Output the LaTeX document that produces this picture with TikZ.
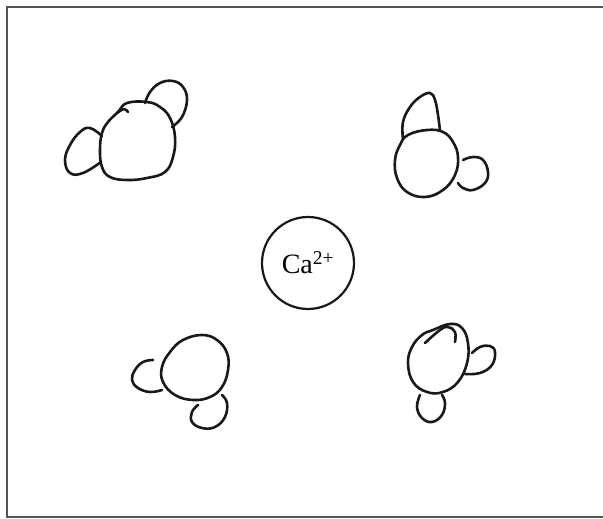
\documentclass[tikz,border=0pt]{standalone}
\usepackage[RGB]{xcolor}
\usepackage{fontspec}
\setmainfont{Liberation Serif}
\usepackage{tikz}
\definecolor{ink}{RGB}{25,25,25}
\definecolor{edge}{RGB}{85,85,85}
\newcommand{\drawpen}{\draw[ink, line width=2.6pt, line cap=round, line join=round]}
\newcommand{\blob}[1]{\drawpen plot[smooth cycle, tension=0.7] coordinates {#1};}
\newcommand{\lobe}[1]{\drawpen plot[smooth, tension=0.7] coordinates {#1};}

\begin{document}
\begin{tikzpicture}[x=1pt, y=-1pt]
\useasboundingbox (0,0) rectangle (603,519);
\draw[edge, line width=2pt] (7,7) rectangle (607,517);
% calcium ion
\node[draw=ink, circle, line width=2.2pt, minimum size=92pt, inner sep=0pt,
  font=\fontsize{28}{32}\selectfont] (ca) at (308,263) {Ca\textsuperscript{2+}};
% top left water
\blob{(127,103) (147,102) (160,107) (170,118) (175,137) (173,157) (165,172) (147,178) (127,180) (110,177) (102,167) (100,150) (102,133) (108,122) (118,112)}
\lobe{(145,103) (150,92) (160,83) (173,81) (183,87) (187,100) (182,117) (172,127)}
\lobe{(102,136) (90,128) (80,132) (70,145) (65,160) (70,173) (83,173) (101,162)}
\lobe{(117,113) (124,109) (128,112)}
% top right water
\blob{(408,135) (427,130) (443,132) (453,142) (458,157) (455,175) (443,190) (425,197) (407,192) (397,178) (395,160) (400,145)}
\lobe{(403,139) (403,122) (410,107) (420,97) (430,93) (435,100) (438,115) (440,131)}
\lobe{(463,160) (473,157) (483,160) (488,172) (485,183) (473,190) (463,188) (458,183)}
% bottom left water
\blob{(170,352) (183,340) (202,335) (217,340) (227,353) (228,370) (222,387) (210,397) (193,400) (175,395) (163,382) (162,367)}
\lobe{(153,360) (143,362) (135,370) (132,380) (138,388) (150,392) (162,390)}
\lobe{(198,405) (192,412) (192,422) (202,428) (215,427) (225,417) (227,403) (222,395)}
% bottom right water
\blob{(433,330) (450,324) (462,328) (468,343) (467,363) (458,382) (443,392) (427,392) (413,382) (408,363) (412,347) (422,335)}
\lobe{(425,343) (440,330) (448,327) (455,332) (455,342)}
\lobe{(472,353) (480,347) (490,346) (495,352) (492,365) (480,373) (465,374)}
\lobe{(420,395) (417,407) (422,418) (432,422) (442,415) (445,403) (442,395)}
\end{tikzpicture}
\end{document}
